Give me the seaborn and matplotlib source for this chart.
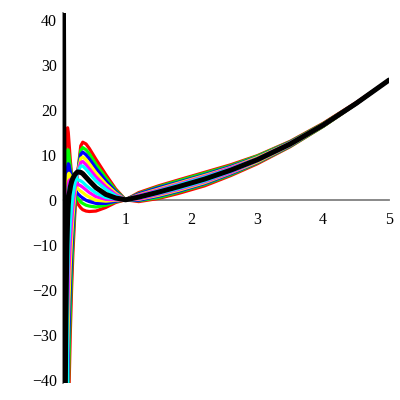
import matplotlib
matplotlib.use("Agg")
import matplotlib.pyplot as plt
import seaborn as sns
from matplotlib.ticker import MultipleLocator

# shared x grid (x axis starts a little right of 0)
x = [0.05, 0.06, 0.065, 0.07, 0.075, 0.08, 0.09, 0.10, 0.11, 0.12, 0.13, 0.14,
     0.16, 0.18, 0.20, 0.23, 0.27, 0.32, 0.35, 0.40, 0.45, 0.55, 0.70, 0.85,
     1.0, 1.2, 1.5, 1.8, 2.2, 2.6, 3.0, 3.5, 4.0, 4.5, 5.0]

# thick black curve
black = [70, 30, 0, -35, -60, -55, -32, -19, -10, -4.5, -1.2, 0.8,
         2.8, 4.0, 4.8, 5.6, 6.2, 6.1, 5.8, 5.0, 4.2, 2.7, 1.2, 0.4,
         0, 0.6, 1.7, 2.9, 4.6, 6.6, 8.9, 12.4, 16.6, 21.4, 26.6]

# curves with the hump near x=0.35
red_bump = [-90, -90, -90, -90, -90, -90, -90, -90, -90, -62, -52, -43,
            -30, -20, -12, -3, 5.6, 12.0, 12.8, 12.4, 11.4, 9.0, 5.6, 2.4,
            0, -0.4, 0.3, 1.4, 3.1, 5.4, 8.0, 11.8, 16.3, 21.3, 26.6]
green_bump = [-90, -90, -90, -90, -90, -90, -90, -90, -90, -52.2, -43.4, -35.6,
              -24.4, -15.9, -9.1, -1.5, 5.7, 11.0, 11.6, 11.1, 10.2, 7.9, 4.9, 2.1,
              0, -0.2, 0.5, 1.7, 3.4, 5.6, 8.2, 11.9, 16.3, 21.3, 26.6]
blue_bump = [-90, -90, -90, -90, -90, -90, -90, -90, -90, -43.6, -35.7, -29.0,
             -19.5, -12.3, -6.6, -0.2, 5.8, 10.1, 10.6, 10.0, 9.1, 7.0, 4.2, 1.8,
             0, -0.1, 0.8, 1.9, 3.6, 5.8, 8.3, 12.0, 16.4, 21.3, 26.6]
yellow_bump = [-90, -90, -90, -90, -90, -90, -90, -90, -90, -35.0, -28.1, -22.4,
               -14.6, -8.7, -4.1, 1.0, 5.9, 9.2, 9.5, 8.9, 8.0, 6.0, 3.5, 1.5,
               0, 0.1, 1.0, 2.1, 3.8, 6.0, 8.4, 12.1, 16.4, 21.3, 26.6]
magenta_bump = [-90, -90, -90, -90, -90, -90, -90, -90, -90, -26.4, -20.5, -15.8,
                -9.7, -5.1, -1.6, 2.3, 6.0, 8.3, 8.5, 7.8, 6.9, 5.1, 2.9, 1.2,
                0, 0.2, 1.2, 2.3, 4.0, 6.1, 8.6, 12.2, 16.5, 21.3, 26.6]
cyan_bump = [-90, -90, -90, -90, -90, -90, -90, -90, -90, -18.3, -13.4, -9.7,
             -5.1, -1.8, 0.8, 3.5, 6.1, 7.5, 7.5, 6.8, 5.9, 4.2, 2.3, 0.9,
             0, 0.4, 1.4, 2.5, 4.2, 6.3, 8.7, 12.3, 16.5, 21.4, 26.6]

# curves with the spike near x=0.12 and the dip near x=0.45
red_dip = [-90, -90, -60, -38, -18, -4, 8, 13.5, 15.6, 16, 15, 13,
           9, 5.6, 3.2, 0.8, -0.8, -1.8, -2.2, -2.5, -2.6, -2.5, -1.7, -0.6,
           0, 1.6, 3.1, 4.4, 6.1, 7.8, 9.8, 13.0, 17.0, 21.6, 26.6]
green_dip = [-90, -90, -60, -37, -28.1, -16.2, -1.6, 5.7, 9.5, 11.1, 11.1, 10.1,
             7.5, 5.2, 3.5, 1.6, 0.4, -0.5, -0.8, -1.2, -1.4, -1.6, -1.2, -0.4,
             0, 1.4, 2.9, 4.2, 5.9, 7.6, 9.7, 12.9, 16.9, 21.5, 26.6]
blue_dip = [-90, -90, -60, -37, -36.1, -25.9, -9.2, -0.5, 4.6, 7.2, 8.0, 7.8,
            6.3, 4.9, 3.7, 2.3, 1.4, 0.7, 0.4, -0.1, -0.4, -0.8, -0.8, -0.3,
            0, 1.3, 2.7, 3.9, 5.6, 7.4, 9.5, 12.8, 16.8, 21.5, 26.6]
yellow_dip = [-90, -90, -60, -36, -42.4, -33.6, -15.2, -5.35, 0.75, 4.1, 5.6, 5.9,
              5.4, 4.7, 4.0, 3.1, 2.5, 1.9, 1.6, 1.0, 0.6, -0.1, -0.3, -0.1,
              0, 1.1, 2.4, 3.7, 5.4, 7.2, 9.4, 12.7, 16.8, 21.5, 26.6]
magenta_dip = [-90, -90, -60, -36, -48.2, -40.7, -20.8, -9.9, -2.8, 1.2, 3.3, 4.2,
               4.5, 4.4, 4.2, 3.8, 3.5, 3.1, 2.8, 2.2, 1.6, 0.7, 0.1, 0.0,
               0, 1.0, 2.2, 3.5, 5.2, 7.1, 9.2, 12.6, 16.7, 21.5, 26.6]
cyan_dip = [-90, -90, -60, -35.5, -53.7, -47.4, -26, -14.1, -6.2, -1.4, 1.2, 2.6,
            3.7, 4.2, 4.4, 4.4, 4.5, 4.2, 3.9, 3.2, 2.6, 1.5, 0.5, 0.2,
            0, 0.8, 2.0, 3.3, 5.0, 6.9, 9.1, 12.5, 16.7, 21.4, 26.6]

curves = [
    (red_bump, "#ff0000"), (red_dip, "#ff0000"),
    (green_bump, "#00ff00"), (green_dip, "#00ff00"),
    (blue_bump, "#0000ff"), (blue_dip, "#0000ff"),
    (yellow_bump, "#ffff00"), (yellow_dip, "#ffff00"),
    (magenta_bump, "#ff00ff"), (magenta_dip, "#ff00ff"),
    (cyan_bump, "#00ffff"), (cyan_dip, "#00ffff"),
]

sns.set_style("white")
plt.rcParams['font.family'] = ['Liberation Serif', 'DejaVu Serif']

fig = plt.figure(figsize=(4, 4), dpi=100)
ax = fig.add_axes([63 / 400, 17 / 400, 326 / 400, 370 / 400])

for vals, col in curves:
    sns.lineplot(x=x, y=vals, color=col, lw=2.3, estimator=None, sort=False,
                 ax=ax, zorder=3)
sns.lineplot(x=x, y=black, color="black", lw=3.6, estimator=None, sort=False,
             ax=ax, zorder=4)

ax.set_xlim(0.05, 5)
ax.set_ylim(-40.7, 41.5)

# maple style axes: x axis through y=0, y axis on the left edge
ax.spines['top'].set_visible(False)
ax.spines['right'].set_visible(False)
ax.spines['bottom'].set_position(('data', 0))
for side in ['bottom', 'left']:
    ax.spines[side].set_color('#808080')
    ax.spines[side].set_linewidth(1.3)

ax.xaxis.set_major_locator(MultipleLocator(1))
ax.xaxis.set_minor_locator(MultipleLocator(0.5))
ax.yaxis.set_major_locator(MultipleLocator(10))
ax.yaxis.set_minor_locator(MultipleLocator(5))
ax.tick_params(axis='both', which='major', direction='out', length=3.5, width=1,
               color='#808080', labelsize=11.5, labelcolor='black')
ax.tick_params(axis='both', which='minor', direction='out', length=2, width=1,
               color='#808080')
ax.tick_params(axis='x', pad=5)
ax.tick_params(axis='y', pad=1)
ax.set_xlabel("")
ax.set_ylabel("")
ax.grid(False)

fig.savefig("out.png", dpi=100)
